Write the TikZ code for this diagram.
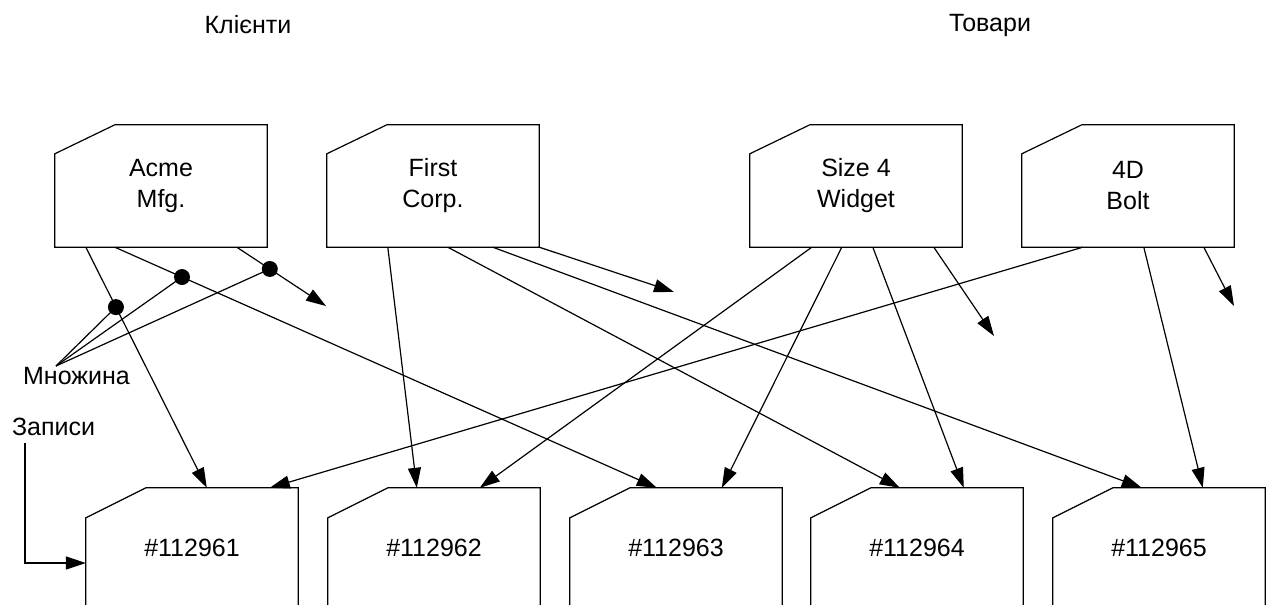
\documentclass[tikz,border=0pt]{standalone}
\usepackage{fontspec}
\setmainfont{Liberation Sans}
\usetikzlibrary{arrows.meta,calc}

\begin{document}
\begin{tikzpicture}[x=1pt,y=-1pt,
  every node/.style={inner sep=0pt, font=\fontsize{25}{31}\selectfont},
  card/.style={minimum width=212pt, align=center},
  topcard/.style={card, minimum height=122pt},
  reccard/.style={card, minimum height=120pt},
  link/.style={line width=1.2pt, -{Triangle[length=20pt,width=13pt]}},
  plain/.style={line width=1.2pt},
  outline/.style={line width=1.2pt, line join=miter}
]
\useasboundingbox (0,0) rectangle (1272,605);
\clip (0,0) rectangle (1272,605);

% group titles
\node (tclients) at (248,25) {Клієнти};
\node (tgoods) at (990,25) {Товари};

% customer and product cards
\node[topcard] (acme)   at (161,186)  {Acme\\Mfg.};
\node[topcard] (first)  at (433,186)  {First\\Corp.};
\node[topcard] (widget) at (856,186)  {Size 4\\Widget};
\node[topcard] (bolt)   at (1128,186) {4D\\Bolt};

% record cards
\node[reccard] (r1) at (192,548)  {\#112961};
\node[reccard] (r2) at (434,548)  {\#112962};
\node[reccard] (r3) at (676,548)  {\#112963};
\node[reccard] (r4) at (917,548)  {\#112964};
\node[reccard] (r5) at (1159,548) {\#112965};

% chamfered outlines
\foreach \n/\dy in {acme/29,first/29,widget/29,bolt/29,r1/30,r2/30,r3/30,r4/30,r5/30}
  \draw[outline] (\n.south west) -- ([yshift=-\dy pt]\n.north west)
    -- ([xshift=60pt]\n.north west) -- (\n.north east) -- (\n.south east) -- cycle;

% side labels
\node (mn)  at (76.5,376) {Множина};
\node (zap) at (53.5,427) {Записи};

% loose ends of the links
\coordinate (acmeend)   at (326,306);
\coordinate (firstend)  at (674,292);
\coordinate (widgetend) at (994,336);
\coordinate (boltend)   at (1234,306);

% links from Acme Mfg.
\draw[link] ([xshift=31pt]acme.south west) -- coordinate[pos=0.249] (d1) ([xshift=121pt]r1.north west);
\draw[link] ([xshift=60pt]acme.south west) -- coordinate[pos=0.124] (d2) ([xshift=87pt]r3.north west);
\draw[link] ([xshift=182pt]acme.south west) -- coordinate[pos=0.37] (d3) (acmeend);

% links from First Corp.
\draw[link] ([xshift=61pt]first.south west)  -- ([xshift=89pt]r2.north west);
\draw[link] ([xshift=121pt]first.south west) -- ([xshift=89pt]r4.north west);
\draw[link] ([xshift=166pt]first.south west) -- ([xshift=89pt]r5.north west);
\draw[link] (first.south east) -- (firstend);

% links from Size 4 Widget
\draw[link] ([xshift=62pt]widget.south west)  -- ([xshift=152pt]r2.north west);
\draw[link] ([xshift=92pt]widget.south west)  -- ([xshift=152pt]r3.north west);
\draw[link] ([xshift=123pt]widget.south west) -- ([xshift=153pt]r4.north west);
\draw[link] ([xshift=184pt]widget.south west) -- (widgetend);

% links from 4D Bolt
\draw[link] ([xshift=61pt]bolt.south west)  -- ([xshift=184pt]r1.north west);
\draw[link] ([xshift=122pt]bolt.south west) -- ([xshift=150pt]r5.north west);
\draw[link] ([xshift=182pt]bolt.south west) -- (boltend);

% callout for the link sets
\coordinate (mjoin) at (56,366);
\draw[plain] (mjoin) -- (d1);
\draw[plain] (mjoin) -- (d2);
\draw[plain] (mjoin) -- (d3);
\foreach \d in {d1,d2,d3} \fill (\d) circle (8pt);

% callout for the records
\coordinate (zstart) at (25,443);
\draw[link] (zstart) |- ([yshift=-15pt]r1.west);
\end{tikzpicture}
\end{document}
